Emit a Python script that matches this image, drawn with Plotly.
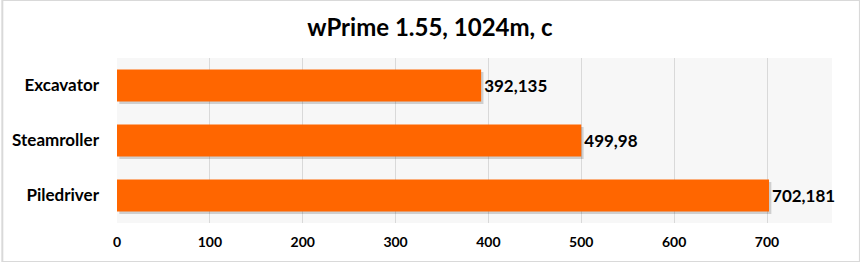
import plotly.graph_objects as go

categories = ["Excavator", "Steamroller", "Piledriver"]
values = [392.135, 499.98, 702.181]
tick_vals = [0, 100, 200, 300, 400, 500, 600, 700]

FONT = "Lato, 'Open Sans', sans-serif"
SHADOW_SHIFT = 2.5  # in x units (~2-3px)

fig = go.Figure()
# soft drop shadow
fig.add_trace(go.Bar(
    y=categories, x=values, orientation="h",
    base=[SHADOW_SHIFT] * len(values),
    marker=dict(color="rgba(0,0,0,0.16)", line=dict(width=0)),
    width=0.58, offset=-0.29 + 0.045,
    hoverinfo="skip",
))
fig.add_trace(go.Bar(
    y=categories, x=values, orientation="h",
    marker=dict(color="#FF6600", line=dict(width=0)),
    width=0.58, offset=-0.29,
    texttemplate="%{x:.3~f}", textposition="outside",
    textfont=dict(family=FONT, size=17, color="#000000", weight="bold"),
    cliponaxis=False,
))

fig.update_layout(
    width=860, height=262,
    margin=dict(l=115, r=28, t=58, b=39),
    paper_bgcolor="#ffffff", plot_bgcolor="#f7f7f7",
    separators=", ",
    showlegend=False,
    barmode="overlay",
    title=dict(text="<b>wPrime 1.55, 1024m, c</b>", x=0.5, xanchor="center",
               y=0.895, yanchor="middle",
               font=dict(family=FONT, size=24, color="#000000")),
    xaxis=dict(range=[0, 770], tickvals=tick_vals, showgrid=True,
               gridcolor="#d9d9d9", gridwidth=1, zeroline=False,
               showline=False, ticks="",
               tickfont=dict(family=FONT, size=14, color="#000000", weight="bold"),
               ticklabelstandoff=9),
    yaxis=dict(autorange="reversed", showgrid=False, zeroline=False,
               ticks="", ticklabelstandoff=17,
               tickfont=dict(family=FONT, size=17, color="#000000", weight="bold")),
    shapes=[dict(type="rect", xref="paper", yref="paper", x0=-115/717, x1=1+28/717,
                 y0=-39/165, y1=1+58/165, line=dict(color="#d9d9d9", width=2),
                 fillcolor="rgba(0,0,0,0)", layer="above")],
)

fig.write_html("out.html")
